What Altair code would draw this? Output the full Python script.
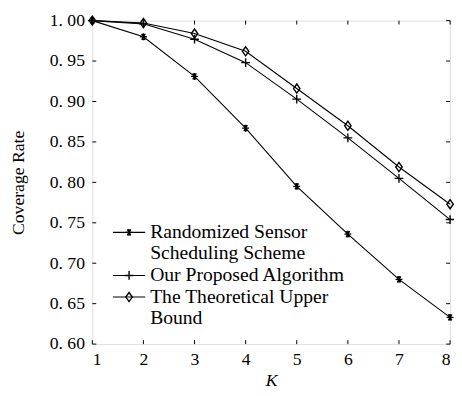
import altair as alt
import pandas as pd

K = [1, 2, 3, 4, 5, 6, 7, 8]
randomized = [1.000, 0.980, 0.931, 0.867, 0.795, 0.736, 0.680, 0.633]
proposed = [1.000, 0.996, 0.977, 0.948, 0.903, 0.855, 0.805, 0.754]
upper = [1.000, 0.997, 0.984, 0.962, 0.916, 0.870, 0.819, 0.773]
series_names = ["Randomized Sensor Scheduling Scheme", "Our Proposed Algorithm",
                "The Theoretical Upper Bound"]
legend_lines = [["Randomized Sensor", "Scheduling Scheme"],
                ["Our Proposed Algorithm"],
                ["The Theoretical Upper", "Bound"]]
y_ticks = [0.60, 0.65, 0.70, 0.75, 0.80, 0.85, 0.90, 0.95, 1.00]

W, H = 365, 330
FONT = "Liberation Serif"

ASTER = "M-1,0L1,0M-0.5,-0.866L0.5,0.866M-0.5,0.866L0.5,-0.866M0,-1L0,1"
PLUS = "M-1,0L1,0M0,-1L0,1"
DIAM = "M0,-1.2L0.85,0L0,1.2L-0.85,0Z"
shapes = [ASTER, PLUS, DIAM]
sizes = [50, 80, 60]

rows = []
for name, vals in zip(series_names, [randomized, proposed, upper]):
    for k, v in zip(K, vals):
        rows.append({"K": k, "rate": v, "series": name})
df = pd.DataFrame(rows)

xs = alt.Scale(domain=[1, 8], nice=False)
ys = alt.Scale(domain=[0.6, 1.0], nice=False, zero=False)

x_axis = alt.Axis(values=K, title="K", ticks=False, domain=False, grid=False,
                  labelExpr="format(datum.value, 'd')",
                  labelFont=FONT, labelFontSize=18, labelPadding=7,
                  labelColor="black", titleFont=FONT, titleFontSize=18,
                  titleFontStyle="italic", titleFontWeight="normal",
                  titleColor="black", titlePadding=3)
y_axis = alt.Axis(values=y_ticks, title="Coverage Rate", ticks=False,
                  domain=False, grid=False,
                  labelExpr="substring(format(datum.value, '.2f'), 0, 2) + '\u00a0' + substring(format(datum.value, '.2f'), 2)",
                  labelFont=FONT, labelFontSize=18, labelPadding=8,
                  labelColor="black", titleFont=FONT, titleFontSize=18,
                  titleFontWeight="normal", titleColor="black",
                  titlePadding=22)

def X(field="K"):
    return alt.X(f"{field}:Q", scale=xs, axis=x_axis)

def Y(field="rate"):
    return alt.Y(f"{field}:Q", scale=ys, axis=y_axis)

layers = []
for i, name in enumerate(series_names):
    d = df[df.series == name]
    base = alt.Chart(d)
    layers.append(base.mark_line(color="black", strokeWidth=1.1).encode(x=X(), y=Y()))
    layers.append(base.mark_point(shape=shapes[i], size=sizes[i], filled=False,
                                  color="black", strokeWidth=1.4, opacity=1).encode(
        x=X(), y=Y()))

# inward ticks
tk = pd.DataFrame({"K": K})
tv = pd.DataFrame({"rate": y_ticks})
tl = 4
layers.append(alt.Chart(tk).mark_rule(color="black", strokeWidth=1).encode(
    x=X(), y=alt.value(0), y2=alt.value(tl)))
layers.append(alt.Chart(tk).mark_rule(color="black", strokeWidth=1).encode(
    x=X(), y=alt.value(H), y2=alt.value(H - tl)))
layers.append(alt.Chart(tv).mark_rule(color="black", strokeWidth=1).encode(
    y=Y(), x=alt.value(0), x2=alt.value(tl)))
layers.append(alt.Chart(tv).mark_rule(color="black", strokeWidth=1).encode(
    y=Y(), x=alt.value(W), x2=alt.value(W - tl)))

# manual legend
lx0, lx1, ltx = 21, 54, 59
row_y = [216, 260, 282]
line_h = 21.5
for i, name in enumerate(series_names):
    y0 = row_y[i]
    one = pd.DataFrame({"a": [0]})
    layers.append(alt.Chart(one).mark_rule(color="black", strokeWidth=1.1).encode(
        x=alt.value(lx0), x2=alt.value(lx1), y=alt.value(y0)))
    layers.append(alt.Chart(one).mark_point(shape=shapes[i], size=sizes[i], filled=False,
                                            color="black", strokeWidth=1.4, opacity=1).encode(
        x=alt.value((lx0 + lx1) / 2), y=alt.value(y0)))
    for j, txt in enumerate(legend_lines[i]):
        layers.append(alt.Chart(one).mark_text(text=txt, font=FONT, fontSize=20,
                                               align="left", baseline="middle",
                                               color="black").encode(
            x=alt.value(ltx), y=alt.value(y0 + j * line_h)))

chart = alt.layer(*layers).properties(
    width=W, height=H,
    autosize=alt.AutoSizeParams(type="none"),
    padding={"left": 86, "top": 9, "right": 4, "bottom": 45},
).configure_view(stroke="black", strokeWidth=1.2).configure(
    background="white", font=FONT
).configure_axis(labelFont=FONT, titleFont=FONT, labelColor="black", titleColor="black")

chart.save("out.html", embed_options={"renderer": "svg", "actions": False})
